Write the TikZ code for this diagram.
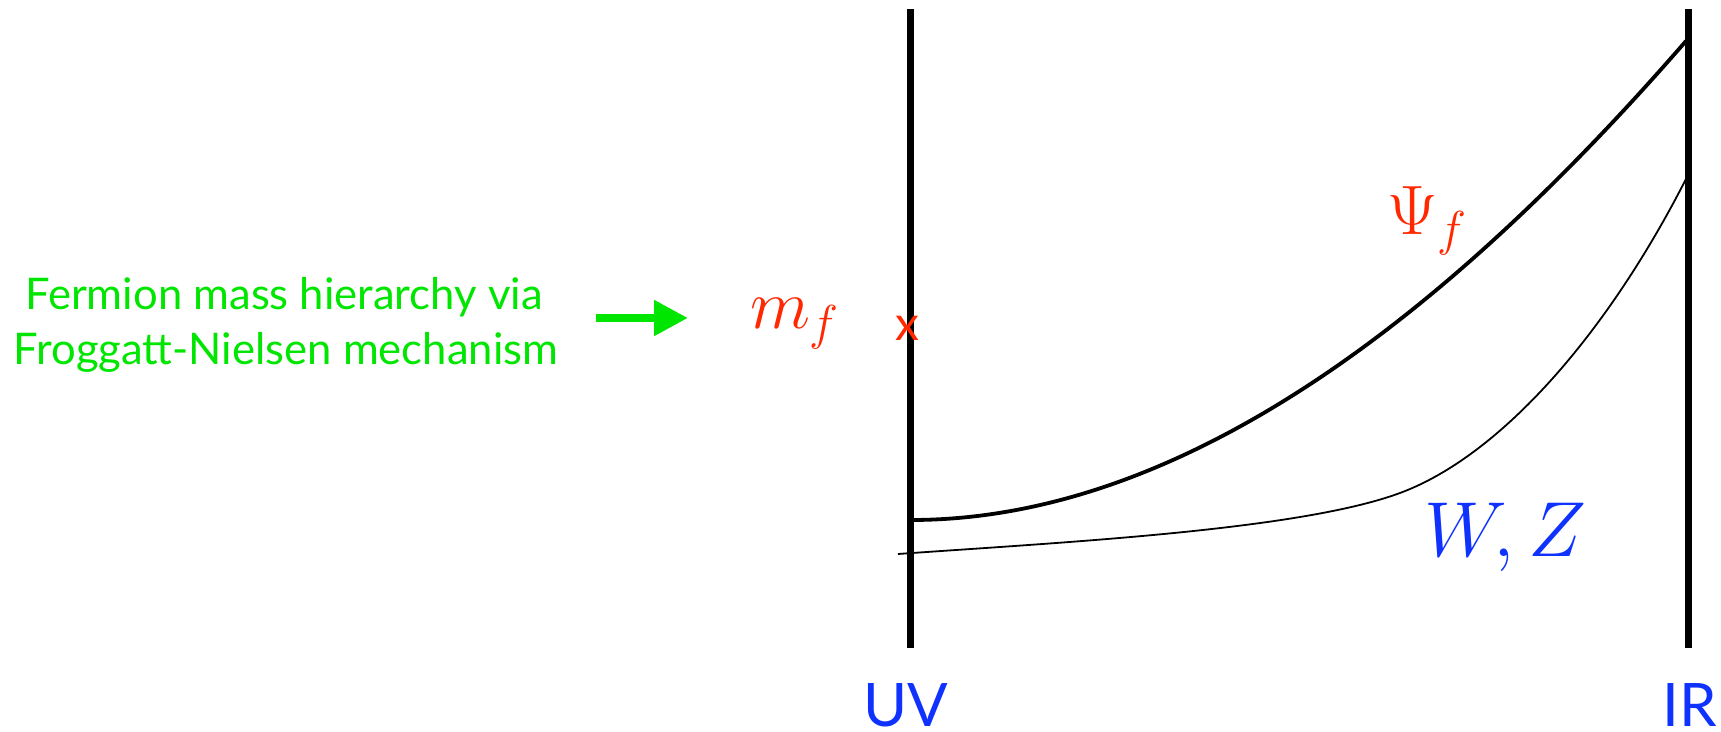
\RequirePackage{fix-cm}
\documentclass[tikz,border=0pt]{standalone}
\usepackage{fontspec}
\setsansfont{Lato}
\usetikzlibrary{arrows.meta}
\definecolor{fngreen}{RGB}{0,230,0}
\definecolor{fnred}{RGB}{255,40,0}
\definecolor{fnblue}{RGB}{15,50,255}
\tikzset{
  brane/.style={line width=3.5pt, black},
  thickcurve/.style={line width=1.9pt, black},
  thincurve/.style={line width=0.9pt, black},
  greentext/.style={font=\sffamily\fontsize{21.8}{26}\selectfont, text=fngreen, anchor=base},
  mathlabel/.style={font=\fontsize{35}{40}\selectfont, anchor=base west},
  endlabel/.style={font=\sffamily\fontsize{30}{36}\selectfont, text=fnblue, anchor=base},
}
\begin{document}
\begin{tikzpicture}[x=0.5pt,y=-0.5pt, inner sep=0pt, outer sep=0pt]
\useasboundingbox (0,0) rectangle (1721,732);
% branes
\coordinate (uvtop) at (910,9);
\coordinate (uvbot) at (910,648);
\coordinate (irtop) at (1688,9);
\coordinate (irbot) at (1688,648);
\draw[brane] (uvtop) -- (uvbot);
\draw[brane] (irtop) -- (irbot);
% Psi_f profile
\coordinate (psiA) at (911,520);
\coordinate (psiB) at (1686,41);
\draw[thickcurve] (psiA) .. controls (1211,520) and (1486,271) .. (psiB);
% W,Z profile
\coordinate (wzA) at (898,554);
\coordinate (wzM) at (1400,493);
\coordinate (wzB) at (1687,177);
\draw[thincurve] (wzA) .. controls (1068,542) and (1300,530) .. (wzM)
                        .. controls (1500,456) and (1607,334.6) .. (wzB);
% labels
\node[greentext] (t1) at (284,310) {Fermion mass hierarchy via};
\node[greentext] (t2) at (286,365) {Froggatt-Nielsen mechanism};
\coordinate (arrA) at (596,318);
\coordinate (arrB) at (688,318);
\draw[fngreen, line width=4pt, -{Triangle[length=17pt,width=17pt]}] (arrA) -- (arrB);
\node[mathlabel, text=fnred] (mf) at (750,329) {$m_f$};
\node[font=\sffamily\fontsize{24}{30}\selectfont, text=fnred, anchor=base] (cross) at (907,341) {x};
\node[mathlabel, text=fnred] (psi) at (1387,235) {$\Psi_f$};
\node[mathlabel, font=\fontsize{39}{44}\selectfont, text=fnblue] (wz) at (1424,557) {$W,Z$};
\node[endlabel] (uv) at (906,727) {UV};
\node[endlabel] (ir) at (1690,727) {IR};
\end{tikzpicture}
\end{document}
